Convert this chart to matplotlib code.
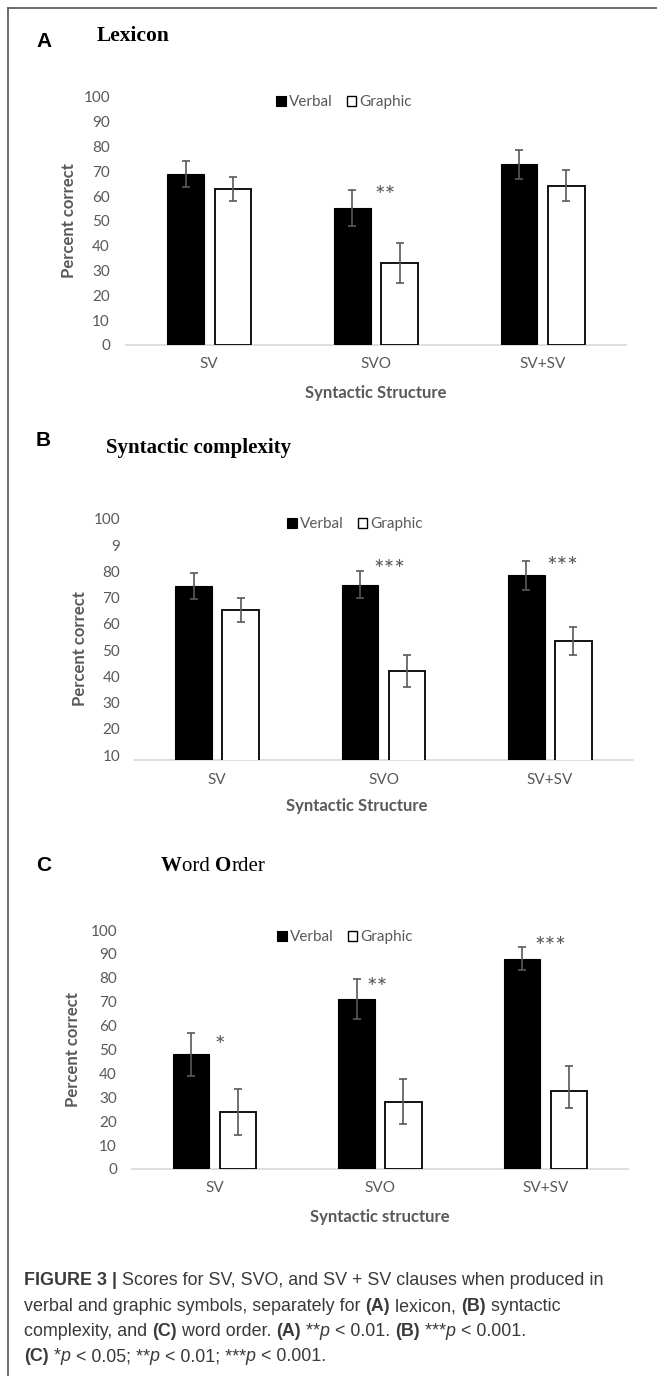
import matplotlib
matplotlib.use("Agg")
import matplotlib.pyplot as plt
import numpy as np
from matplotlib.patches import Patch
from matplotlib.lines import Line2D
from matplotlib.font_manager import FontProperties

# ---------------- data ----------------
categories = ["SV", "SVO", "SV+SV"]
series_names = ["Verbal", "Graphic"]

lexicon_verbal = [69.0, 55.2, 72.8]
lexicon_verbal_err = [5.2, 7.2, 6.0]
lexicon_graphic = [62.9, 33.0, 64.3]
lexicon_graphic_err = [4.9, 8.1, 6.2]
lexicon_stars = [("**", 1, 62.5)]

complexity_verbal = [74.4, 74.9, 78.6]
complexity_verbal_err = [5.0, 5.2, 5.5]
complexity_graphic = [65.3, 42.1, 53.5]
complexity_graphic_err = [4.6, 6.2, 5.2]
complexity_stars = [("***", 1, 82.8), ("***", 2, 84.1)]

order_verbal = [48.0, 71.2, 88.0]
order_verbal_err = [9.0, 8.3, 4.9]
order_graphic = [23.8, 28.2, 32.5]
order_graphic_err_low = [9.6, 9.5, 7.1]
order_graphic_err_high = [9.6, 9.5, 10.8]
order_stars = [("*", 0, 54.0), ("**", 1, 78.0), ("***", 2, 95.4)]

ticks_0_100 = [0, 10, 20, 30, 40, 50, 60, 70, 80, 90, 100]
ticks_0_100_labels = ["0", "10", "20", "30", "40", "50", "60", "70", "80", "90", "100"]
ticks_b = [10, 20, 30, 40, 50, 60, 70, 80, 90, 100]
ticks_b_labels = ["10", "20", "30", "40", "50", "60", "70", "80", "9", "100"]

# ---------------- style ----------------
W, H = 657, 1376
GRAY = "#595959"
SANS = ["Lato", "DejaVu Sans"]
SERIF = ["Liberation Serif", "DejaVu Serif"]
CAP = ["Liberation Sans", "DejaVu Sans"]

fig = plt.figure(figsize=(W / 100, H / 100), dpi=100)
fig.patch.set_facecolor("white")


def fx(px):
    return px / W


def fy(py):
    return 1 - py / H


def px_axes(l, r, t, b):
    return fig.add_axes([l / W, 1 - b / H, (r - l) / W, (b - t) / H])


BW = 0.22
OFF = 0.142


def draw_panel(ax, verbal, verr, graphic, gerr, ylim, yticks, ylabels,
               stars, ypad, xpad, star_dx):
    x = np.arange(len(categories))
    ax.bar(x - OFF, verbal, width=BW, color="black", edgecolor="black",
           linewidth=0.8, zorder=2)
    ax.bar(x + OFF, graphic, width=BW, color="white", edgecolor="black",
           linewidth=1.3, zorder=2)
    ax.errorbar(x - OFF, verbal, yerr=verr, fmt="none", ecolor=GRAY,
                elinewidth=1.2, capsize=3, capthick=1.2, zorder=3)
    ax.errorbar(x + OFF, graphic, yerr=gerr, fmt="none", ecolor=GRAY,
                elinewidth=1.2, capsize=3, capthick=1.2, zorder=3)
    ax.set_xlim(-0.5, len(categories) - 0.5)
    ax.set_ylim(*ylim)
    for s in ["top", "right", "left"]:
        ax.spines[s].set_visible(False)
    ax.spines["bottom"].set_color("#d9d9d9")
    ax.spines["bottom"].set_linewidth(1.2)
    ax.spines["bottom"].set_zorder(1)
    ax.set_yticks(yticks, ylabels)
    ax.set_xticks(x, categories)
    ax.tick_params(axis="y", length=0, pad=ypad, labelcolor=GRAY, labelsize=11)
    ax.tick_params(axis="x", length=0, pad=xpad, labelcolor=GRAY, labelsize=11)
    for lab in ax.get_xticklabels() + ax.get_yticklabels():
        lab.set_family(SANS)
    ax.set_facecolor("none")
    for (s, i, yv), dx in zip(stars, star_dx):
        ax.annotate(s, (i + dx, yv), xytext=(0, -10), textcoords="offset points",
                    ha="center", va="baseline", fontsize=18, color=GRAY,
                    family=SANS)


def legend_at(cx, cy):
    handles = [Patch(facecolor="black", edgecolor="black", linewidth=0.8),
               Patch(facecolor="white", edgecolor="black", linewidth=1.0)]
    fig.legend(handles, series_names, loc="center", bbox_to_anchor=(fx(cx), fy(cy)),
               ncol=2, frameon=False, handlelength=0.65, handleheight=0.65,
               handletextpad=0.2, columnspacing=0.9, labelcolor=GRAY,
               prop=FontProperties(family=SANS, size=11))


# ---------------- panel A ----------------
axA = px_axes(126, 626, 97, 345)
draw_panel(axA, lexicon_verbal, lexicon_verbal_err, lexicon_graphic,
           lexicon_graphic_err, (0, 100), ticks_0_100, ticks_0_100_labels,
           lexicon_stars, 11.5, 9.0, [0.054])
legend_at(344, 102)

# ---------------- panel B ----------------
axB = px_axes(134, 633, 519, 760)
draw_panel(axB, complexity_verbal, complexity_verbal_err, complexity_graphic,
           complexity_graphic_err, (8.1, 100), ticks_b, ticks_b_labels,
           complexity_stars, 10, 9.0, [0.033, 0.077])
legend_at(355, 524)

# ---------------- panel C ----------------
axC = px_axes(132, 628, 930, 1169)
draw_panel(axC, order_verbal, order_verbal_err, order_graphic,
           [order_graphic_err_low, order_graphic_err_high], (0, 100),
           ticks_0_100, ticks_0_100_labels, order_stars, 10.8, 9.0,
           [0.032, -0.018, 0.03])
legend_at(345, 937)

# ---------------- axis titles ----------------
for (x, y, s) in [(376, 393, "Syntactic Structure"), (357, 806, "Syntactic Structure"),
                  (380, 1217, "Syntactic structure")]:
    fig.text(fx(x), fy(y), s, ha="center", va="center", fontsize=12,
             fontweight="bold", color=GRAY, family=SANS)
for (x, y) in [(69, 221), (80, 649), (73, 1050)]:
    fig.text(fx(x), fy(y), "Percent correct", ha="center", va="center",
             rotation=90, fontsize=12, fontweight="bold", color=GRAY, family=SANS)

# ---------------- run-based text helper ----------------
renderer = fig.canvas.get_renderer()


def measure(s, prop):
    w1, _, _ = renderer.get_text_width_height_descent(s + "|", prop, ismath=False)
    w2, _, _ = renderer.get_text_width_height_descent("|", prop, ismath=False)
    return w1 - w2


def draw_runs(x_px, y_px, runs, size, family, color):
    x = x_px
    for s, weight, style in runs:
        prop = FontProperties(family=family, size=size, weight=weight, style=style)
        fig.text(fx(x), fy(y_px), s, fontproperties=prop, color=color,
                 ha="left", va="baseline")
        x += measure(s, prop)


# panel labels and titles
for (y, s) in [(47, "A"), (446, "B"), (871, "C")]:
    fig.text(fx(36), fy(y), s, fontsize=15, fontweight="bold", family=CAP,
             color="black", ha="left", va="baseline")
fig.text(fx(97), fy(41), "Lexicon", fontsize=15.5, fontweight="bold", family=SERIF,
         ha="left", va="baseline", color="black")
fig.text(fx(106), fy(453), "Syntactic complexity", fontsize=15, fontweight="bold",
         family=SERIF, ha="left", va="baseline", color="black")
draw_runs(161, 871, [("W", "bold", "normal"), ("ord ", "normal", "normal"),
                     ("O", "bold", "normal"), ("rder", "normal", "normal")],
          15, SERIF, "black")

# caption
CC = "#3a3a3a"
n, b = "normal", "bold"
caption_lines = [
    [("FIGURE 3 |", b, n), (" Scores for SV, SVO, and SV + SV clauses when produced in", n, n)],
    [("verbal and graphic symbols, separately for ", n, n), ("(A)", b, n),
     (" lexicon, ", n, n), ("(B)", b, n), (" syntactic", n, n)],
    [("complexity, and ", n, n), ("(C)", b, n), (" word order. ", n, n), ("(A)", b, n),
     (" **", n, n), ("p", n, "italic"), (" < 0.01. ", n, n), ("(B)", b, n),
     (" ***", n, n), ("p", n, "italic"), (" < 0.001.", n, n)],
    [("(C)", b, n), (" *", n, n), ("p", n, "italic"), (" < 0.05; **", n, n),
     ("p", n, "italic"), (" < 0.01; ***", n, n), ("p", n, "italic"), (" < 0.001.", n, n)],
]
for yb, runs in zip([1285, 1311, 1336, 1361], caption_lines):
    draw_runs(24, yb, runs, 12.9, CAP, CC)

# border
fig.add_artist(Line2D([fx(8), fx(8)], [0, fy(8)], transform=fig.transFigure,
                      color="#555555", lw=1.2))
fig.add_artist(Line2D([fx(8), 1], [fy(8), fy(8)], transform=fig.transFigure,
                      color="#555555", lw=1.2))

fig.savefig("out.png", dpi=100, facecolor="white")
